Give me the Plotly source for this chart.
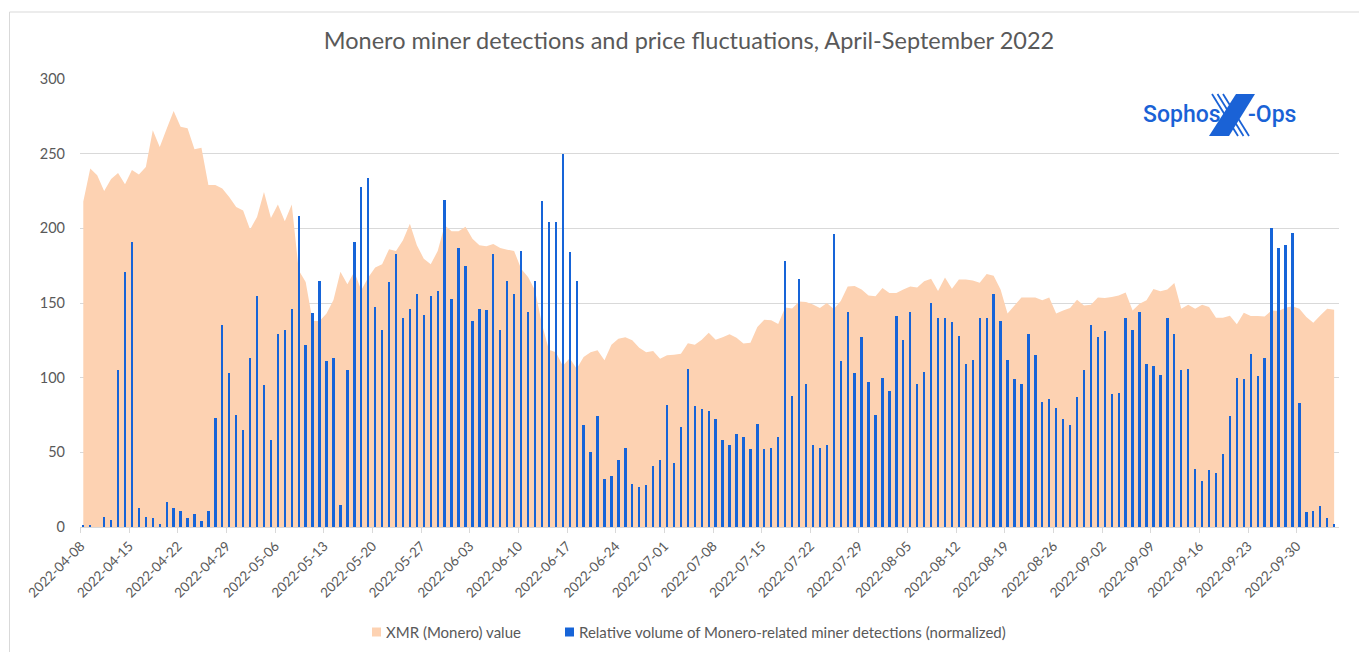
import pandas as pd
import plotly.graph_objects as go

# Daily series, 2022-04-08 .. 2022-10-05
start_date = "2022-04-08"
n_days = 181
dates = pd.date_range(start_date, periods=n_days, freq="D")

# XMR (Monero) value, daily
xmr_value = [
    218, 240, 235.5, 225, 233, 237, 229.5, 239, 236, 241,
    265.6, 254.5, 266.7, 278.6, 268, 267, 253, 254, 229, 229,
    226.6, 221, 214.3, 212, 199.3, 207.6, 224.3, 207, 216, 204.7,
    216, 172, 164, 138, 138, 143, 152, 171, 162.5, 171,
    158.5, 167, 173.7, 176, 186, 184.8, 192, 203, 188.6, 179.7,
    176, 184.8, 202, 198, 198, 201, 193, 188.6, 188, 189.5,
    186.8, 185.7, 184.8, 173, 167.4, 158.5, 136, 118.75, 117, 108,
    113, 106, 113.8, 117, 118.3, 111.6, 122, 126, 127, 125,
    120, 117, 117.8, 112.7, 115, 115.4, 116, 123, 122, 125.4,
    130, 125.4, 127, 129, 126.8, 122.8, 123.4, 134, 138.8, 138.4,
    136, 147, 146.4, 151, 150.7, 149, 146.7, 150, 146, 151.3,
    161, 161.4, 159, 155, 154.5, 160, 156.7, 156.7, 159, 161,
    160.3, 164.5, 166.3, 158, 167, 159.6, 165.8, 165.8, 165, 163.6,
    169.4, 168.3, 159, 142.9, 148.4, 153.6, 153.6, 153.6, 151.8, 153.6,
    142.9, 145, 146.7, 152.2, 148.4, 148.9, 153.6, 153.3, 154, 155,
    157, 145, 149.5, 151.8, 159.4, 157.8, 159, 163.4, 146.2, 148.9,
    146.2, 148.9, 147.3, 140.2, 140.2, 141.5, 135.7, 143.5, 141.3, 141.3,
    141, 145, 144.6, 146.9, 147.8, 146.2, 140.6, 136.8, 141.7, 146.2,
    145.5,
]

# Relative volume of Monero-related miner detections (normalized), daily
detections = [
    1, 1, 0, 7, 5, 105, 171, 191, 13, 6.5,
    6, 2, 17, 13, 11, 6, 9, 4, 11, 73,
    135, 103, 75, 65, 113, 155, 95, 58, 129, 132,
    146, 208, 122, 143, 165, 111, 113, 15, 105, 191,
    228, 234, 147, 132, 164, 183, 140, 146, 156, 142,
    155, 158, 219, 153, 187, 175, 138, 146, 145, 183,
    132, 165, 156, 185, 144, 165, 218, 204, 204, 250,
    184, 165, 68, 50, 74, 32, 34, 45, 53, 29,
    27, 28, 41, 45, 82, 43, 67, 106, 81, 79,
    78, 72, 58, 55, 62, 60, 52, 69, 52, 53,
    60, 178, 88, 166, 96, 55, 53, 55, 196, 111,
    144, 103, 127, 97, 75, 100, 91, 141, 125, 144,
    96, 104, 150, 140, 140, 137, 128, 109, 112, 140,
    140, 156, 138, 112, 99, 96, 129, 115, 84, 86,
    80, 72, 68, 87, 105, 135, 127, 131, 89, 90,
    140, 132, 144, 109, 108, 102, 140, 129, 105, 106,
    39, 31, 38, 36, 49, 74, 100, 99, 116, 101,
    113, 200, 187, 189, 197, 83, 10, 11, 14, 6,
    2,
]

# Weekly tick labels
tick_dates = dates[::7]
tick_labels = [d.strftime("%Y-%m-%d") for d in tick_dates]

y_ticks = [0, 50, 100, 150, 200, 250, 300]

series_names = [
    "XMR (Monero) value",
    "Relative volume of Monero-related miner detections (normalized)",
]

TITLE = "Monero miner detections and price fluctuations, April-September 2022"

AREA_COLOR = "#FDD2B2"
BAR_COLOR = "#1664D8"
TEXT_COLOR = "#595959"
GRID_COLOR = "#D9D9D9"
LOGO_COLOR = "#1A62D6"

W, H = 1359, 652
L, R, T, B = 80, 1339, 79, 527
DAY_MS = 86400000


def px(xp):
    """page pixel x -> paper x"""
    return (xp - L) / (R - L)


def py(yp):
    """page pixel y -> paper y"""
    return (B - yp) / (B - T)


fig = go.Figure()

# Price area on the primary axis
fig.add_trace(go.Scatter(
    x=dates, y=xmr_value, name=series_names[0],
    mode="none", fill="tozeroy", fillcolor=AREA_COLOR,
    showlegend=False, hoverinfo="x+y",
))

# Detection bars on an overlaying axis so they are painted above the area
fig.add_trace(go.Bar(
    x=dates, y=detections, name=series_names[1], yaxis="y2",
    marker=dict(color=BAR_COLOR, line=dict(width=0)),
    width=0.34 * DAY_MS, showlegend=False,
))

x_range = [dates[0] - pd.Timedelta(days=0.475), dates[0] + pd.Timedelta(days=180.7)]
tick_shift = pd.Timedelta(hours=9)

fig.update_layout(
    width=W, height=H,
    margin=dict(l=L, r=W - R, t=T, b=H - B, pad=0),
    paper_bgcolor="white", plot_bgcolor="white",
    font=dict(family="Lato, Liberation Sans, sans-serif", color=TEXT_COLOR),
    title=dict(
        text=TITLE, x=689 / W, xref="container", xanchor="center",
        y=1 - 41 / H, yref="container", yanchor="middle",
        font=dict(family="Lato, sans-serif", size=23.5, color=TEXT_COLOR),
    ),
    bargap=0,
    xaxis=dict(
        type="date", range=x_range,
        tickmode="array", tickvals=[d - tick_shift for d in tick_dates], ticktext=tick_labels,
        tickangle=-45, tickfont=dict(size=13.5, color=TEXT_COLOR),
        showgrid=False, showline=True, linecolor=GRID_COLOR, linewidth=1,
        ticks="outside", ticklen=5, tickcolor=GRID_COLOR, tickwidth=1,
        zeroline=False,
    ),
    yaxis=dict(
        range=[0, 300], tickmode="array", tickvals=y_ticks,
        tickfont=dict(size=14.5, color=TEXT_COLOR),
        showgrid=True, gridcolor=GRID_COLOR, gridwidth=1,
        zeroline=False, showline=False, ticks="", ticklabelstandoff=14,
    ),
    yaxis2=dict(
        range=[0, 300], overlaying="y", side="left",
        showgrid=False, showticklabels=False, zeroline=False, showline=False, ticks="",
    ),
)

shapes = []
annotations = []

# Chart frame (left and top edges)
shapes.append(dict(type="line", xref="paper", yref="paper",
                   x0=px(9.5), x1=px(9.5), y0=py(12), y1=py(H + 5),
                   line=dict(color=GRID_COLOR, width=1)))
shapes.append(dict(type="line", xref="paper", yref="paper",
                   x0=px(9.5), x1=px(W + 5), y0=py(12), y1=py(12),
                   line=dict(color=GRID_COLOR, width=1)))

# Legend
legend_items = [
    (372, AREA_COLOR, series_names[0]),
    (565, BAR_COLOR, series_names[1]),
]
for x0, color, label in legend_items:
    shapes.append(dict(type="rect", xref="paper", yref="paper",
                       x0=px(x0), x1=px(x0 + 9), y0=py(627.5), y1=py(636.5),
                       fillcolor=color, line=dict(width=0)))
    annotations.append(dict(text=label, xref="paper", yref="paper",
                            x=px(x0 + 12), y=py(632), xanchor="left", yanchor="middle",
                            showarrow=False, font=dict(size=15, color=TEXT_COLOR)))

# Sophos X-Ops mark
logo_font = dict(family="Roboto, sans-serif", size=23, color=LOGO_COLOR, weight=500)
annotations.append(dict(text="Sophos", xref="paper", yref="paper",
                        x=px(1141), y=py(114), xanchor="left", yanchor="middle",
                        showarrow=False, font=logo_font))
annotations.append(dict(text="-Ops", xref="paper", yref="paper",
                        x=px(1246), y=py(114), xanchor="left", yanchor="middle",
                        showarrow=False, font=logo_font))
for k in range(3):
    shapes.append(dict(type="line", xref="paper", yref="paper",
                       x0=px(1212 + 5.5 * k), y0=py(94), x1=px(1238 + 5.5 * k), y1=py(136),
                       line=dict(color=LOGO_COLOR, width=1.8)))
shapes.append(dict(type="path", xref="paper", yref="paper",
                   path="M {a},{b} L {c},{b} L {d},{e} L {f},{e} Z".format(
                       a=px(1236), b=py(94), c=px(1255), d=px(1229), e=py(136), f=px(1209)),
                   fillcolor=LOGO_COLOR, line=dict(width=0)))

fig.update_layout(shapes=shapes, annotations=annotations)

fig.write_html("out.html")
